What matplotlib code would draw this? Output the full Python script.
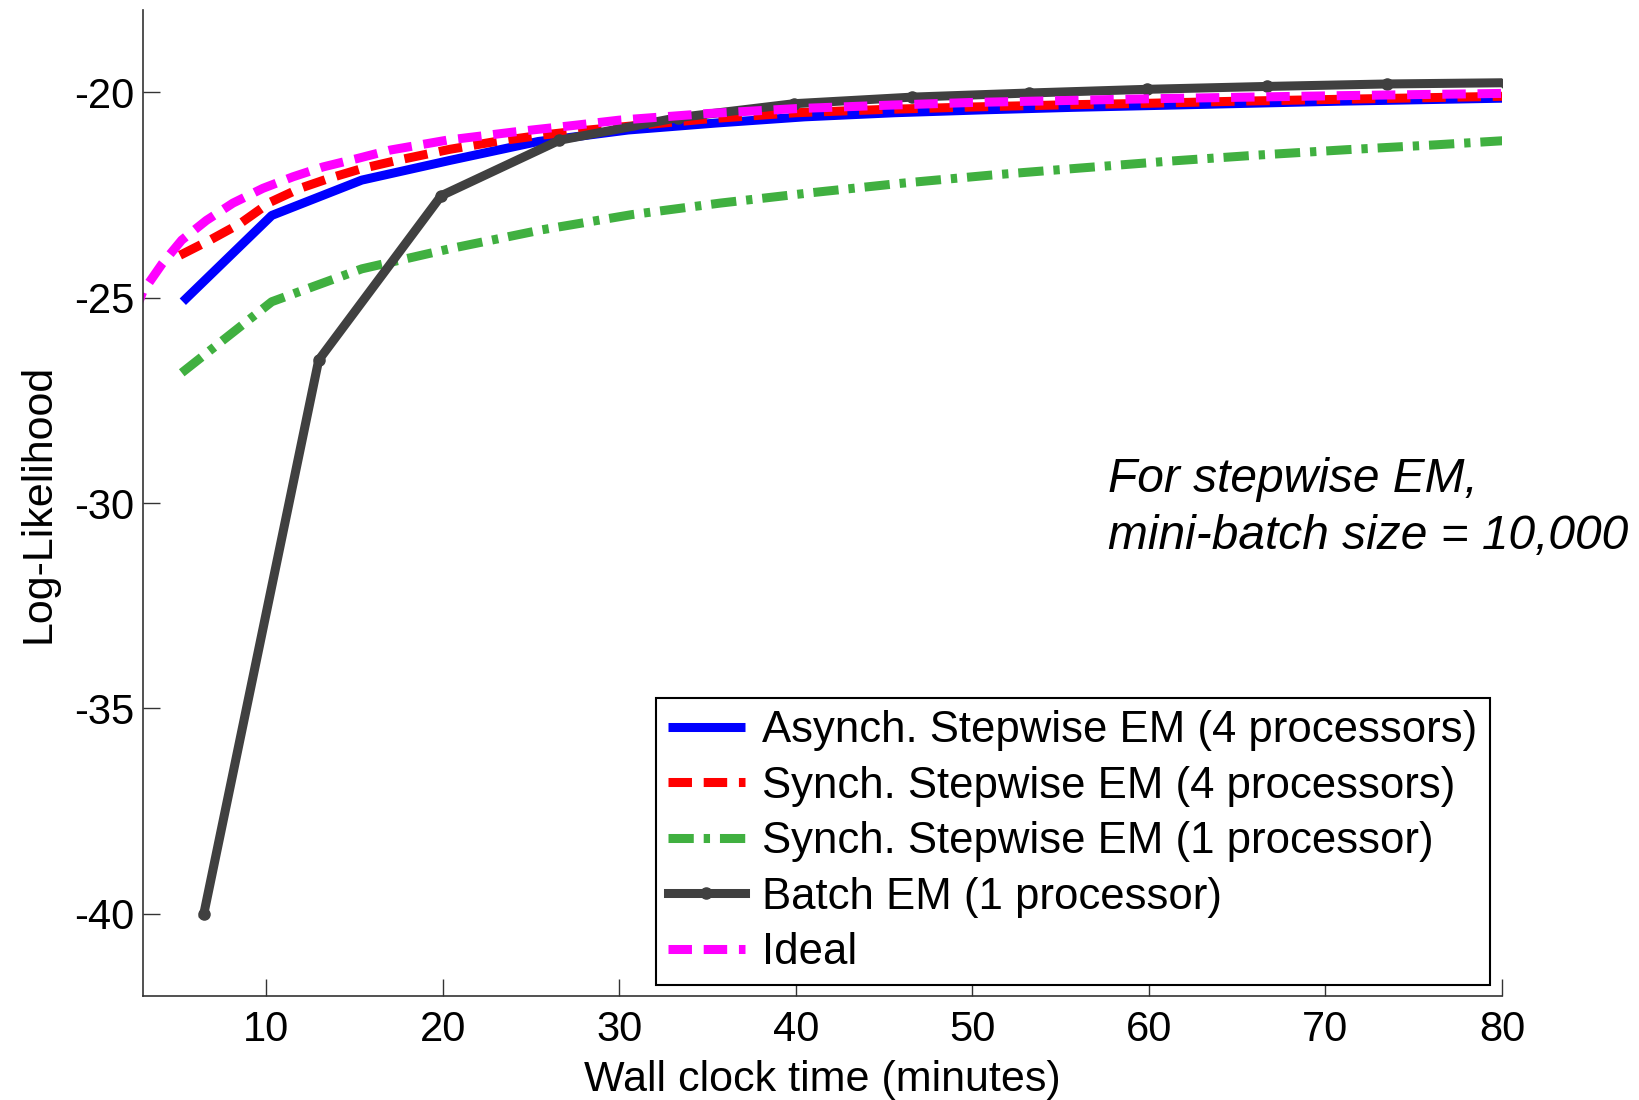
import matplotlib
matplotlib.use("Agg")
import matplotlib.pyplot as plt

plt.rcParams['font.family'] = ['Liberation Sans', 'DejaVu Sans']
plt.rcParams['axes.unicode_minus'] = False

# --- data ---
async4_x = [5.26, 10.3, 15.4, 20.4, 25.4, 30.5, 35.5, 40.5, 45.6, 50.6, 55.6, 60.7, 65.7, 70.7, 75.8, 80.8]
async4_y = [-25.1, -23.0, -22.14, -21.66, -21.2, -20.92, -20.75, -20.6, -20.5, -20.43, -20.37, -20.32,
            -20.27, -20.22, -20.18, -20.14]

sync4_x = [5.1, 6.8, 8.5, 10.2, 11.9, 13.6, 15.4, 17.4, 20.4, 23, 25.5, 28, 30.5, 35, 40, 45, 50, 55,
           60, 65, 70, 75, 80]
sync4_y = [-23.97, -23.6, -23.2, -22.68, -22.34, -22.09, -21.86, -21.66, -21.39, -21.2, -21.05, -20.93,
           -20.83, -20.65, -20.5, -20.42, -20.36, -20.31, -20.27, -20.22, -20.18, -20.14, -20.1]

sync1_x = [5.2, 10.3, 15.4, 20.5, 25.6, 30.7, 35.7, 40.8, 45.9, 51.0, 56.0, 61.1, 66.2, 71.2, 76.3, 80.5]
sync1_y = [-26.83, -25.1, -24.3, -23.8, -23.35, -22.98, -22.7, -22.45, -22.22, -22.02, -21.85, -21.68,
           -21.53, -21.4, -21.28, -21.17]

batch_x = [6.45, 12.96, 19.9, 26.6, 33.3, 39.9, 46.6, 53.2, 59.9, 66.7, 73.5, 80.2]
batch_y = [-40, -26.52, -22.52, -21.17, -20.62, -20.28, -20.12, -20.02, -19.93, -19.86, -19.8, -19.77]

ideal_x = [2.5, 3.0, 4.1, 5.2, 6.6, 8.1, 9.8, 11.5, 13.2, 15.1, 17.0, 20.2, 24.0, 27.6, 30, 35, 40, 45,
           50, 60, 70, 80]
ideal_y = [-25.4, -24.85, -24.17, -23.6, -23.12, -22.7, -22.34, -22.06, -21.82, -21.62, -21.41, -21.17,
           -20.97, -20.8, -20.68, -20.52, -20.4, -20.32, -20.25, -20.16, -20.09, -20.03]

x_ticks = [10, 20, 30, 40, 50, 60, 70, 80]
y_ticks = [-40, -35, -30, -25, -20]

FS_TICK = 30
FS_LAB = 31
FS_LEG = 31.5
FS_NOTE = 34.5
LW = 6.5

fig = plt.figure(figsize=(16.39, 11.0), dpi=100)
ax = fig.add_axes([0.0872, 0.0945, 0.8292, 0.8964])

ax.plot(async4_x, async4_y, color='#0000ff', lw=LW, solid_capstyle='butt',
        label='Asynch. Stepwise EM (4 processors)')
ax.plot(sync4_x, sync4_y, color='#ff0000', lw=LW, dashes=(2.6, 1.3),
        label='Synch. Stepwise EM (4 processors)')
ax.plot(sync1_x, sync1_y, color='#40b040', lw=LW, dashes=(2.8, 1.1, 0.7, 1.1),
        label='Synch. Stepwise EM (1 processor)')
ax.plot(batch_x, batch_y, color='#404040', lw=LW, marker='o', markersize=8,
        label='Batch EM (1 processor)')
ax.plot(ideal_x, ideal_y, color='#ff00ff', lw=LW, dashes=(2.6, 1.3), label='Ideal')

ax.set_xlim(3, 80)
ax.set_ylim(-42, -18)
ax.set_xticks(x_ticks)
ax.set_yticks(y_ticks)
ax.tick_params(direction='in', length=12, width=1, labelsize=FS_TICK, color='#333333')
ax.tick_params(axis='x', pad=10)
ax.tick_params(axis='y', pad=6)
for s in ['top', 'right']:
    ax.spines[s].set_visible(False)
for s in ['left', 'bottom']:
    ax.spines[s].set_color('#333333')
    ax.spines[s].set_linewidth(1.2)

ax.set_xlabel('Wall clock time (minutes)', fontsize=FS_LAB, labelpad=7)
ax.set_ylabel('Log-Likelihood', fontsize=FS_LAB, labelpad=11)

ax.text(57.7, -29.73, 'For stepwise EM,', fontsize=FS_NOTE, style='italic')
ax.text(57.7, -31.13, 'mini-batch size = 10,000', fontsize=FS_NOTE, style='italic')

leg = ax.legend(loc='lower right', bbox_to_anchor=(0.991, 0.011), borderaxespad=0,
                fontsize=FS_LEG, handlelength=1.75, handletextpad=0.4, labelspacing=0.33,
                borderpad=0.28, fancybox=False, framealpha=1, edgecolor='black')
leg.get_frame().set_linewidth(1.5)

fig.savefig('out.png', dpi=100)
